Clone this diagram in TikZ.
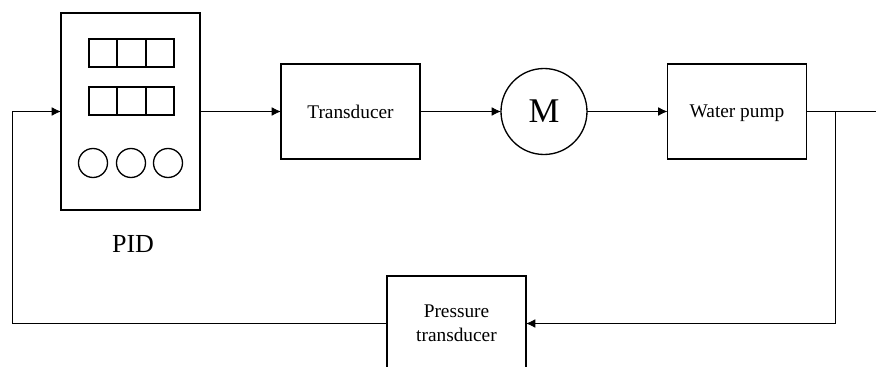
\documentclass[tikz,border=0pt]{standalone}
\usepackage{fontspec}
\setmainfont{Liberation Serif}
\usetikzlibrary{arrows.meta}

\tikzset{
  blockbox/.style={draw,line width=1pt,rectangle,inner sep=0pt,outer sep=0pt,
    minimum width=104.25pt,minimum height=71.25pt,align=center,
    font=\fontsize{14.5}{18}\selectfont},
  motorbox/.style={draw,line width=1pt,circle,inner sep=0pt,outer sep=0pt,
    minimum size=64.5pt,font=\fontsize{26}{30}\selectfont},
  wire/.style={line width=0.6pt},
  arrowwire/.style={wire,-{Latex[length=7pt,width=6.5pt]}}
}

\begin{document}
\begin{tikzpicture}[x=0.75pt,y=-0.75pt]
\useasboundingbox (0,0) rectangle (876,367);
% blocks
\node[blockbox,minimum height=147.75pt] (pid) at (130.5,111.5) {};
\node[blockbox] (trans) at (350.5,111.5) {Transducer};
\node[motorbox] (motor) at (544,111.5) {M};
\node[blockbox,text depth=0pt] (pump) at (737,111.5) {Water pump};
\node[blockbox] (ptrans) at (456.5,323.5) {Pressure\\transducer};
\node[font=\fontsize{19.5}{22}\selectfont] (pidlbl) at (133,244) {PID};
% PID front panel
\draw[line width=1pt] (89,39) rectangle (174,67);
\draw[line width=1pt] (117,39) -- (117,67);
\draw[line width=1pt] (146,39) -- (146,67);
\draw[line width=1pt] (89,87) rectangle (174,115);
\draw[line width=1pt] (117,87) -- (117,115);
\draw[line width=1pt] (146,87) -- (146,115);
\draw[line width=1pt] (93,163) circle (14.5);
\draw[line width=1pt] (131,163) circle (14.5);
\draw[line width=1pt] (168,163) circle (14.5);
% forward path
\draw[arrowwire] (pid.east) -- (trans.west);
\draw[arrowwire] (trans.east) -- (motor.west);
\draw[arrowwire] (motor.east) -- (pump.west);
\coordinate (tap) at (835,111.5);
\coordinate (outR) at (876,111.5);
\coordinate (fbL) at (12.5,111.5);
\draw[wire] (pump.east) -- (outR);
% feedback path
\draw[arrowwire] (tap) |- (ptrans.east);
\draw[arrowwire] (ptrans.west) -| (fbL) -- (pid.west);
\end{tikzpicture}
\end{document}
